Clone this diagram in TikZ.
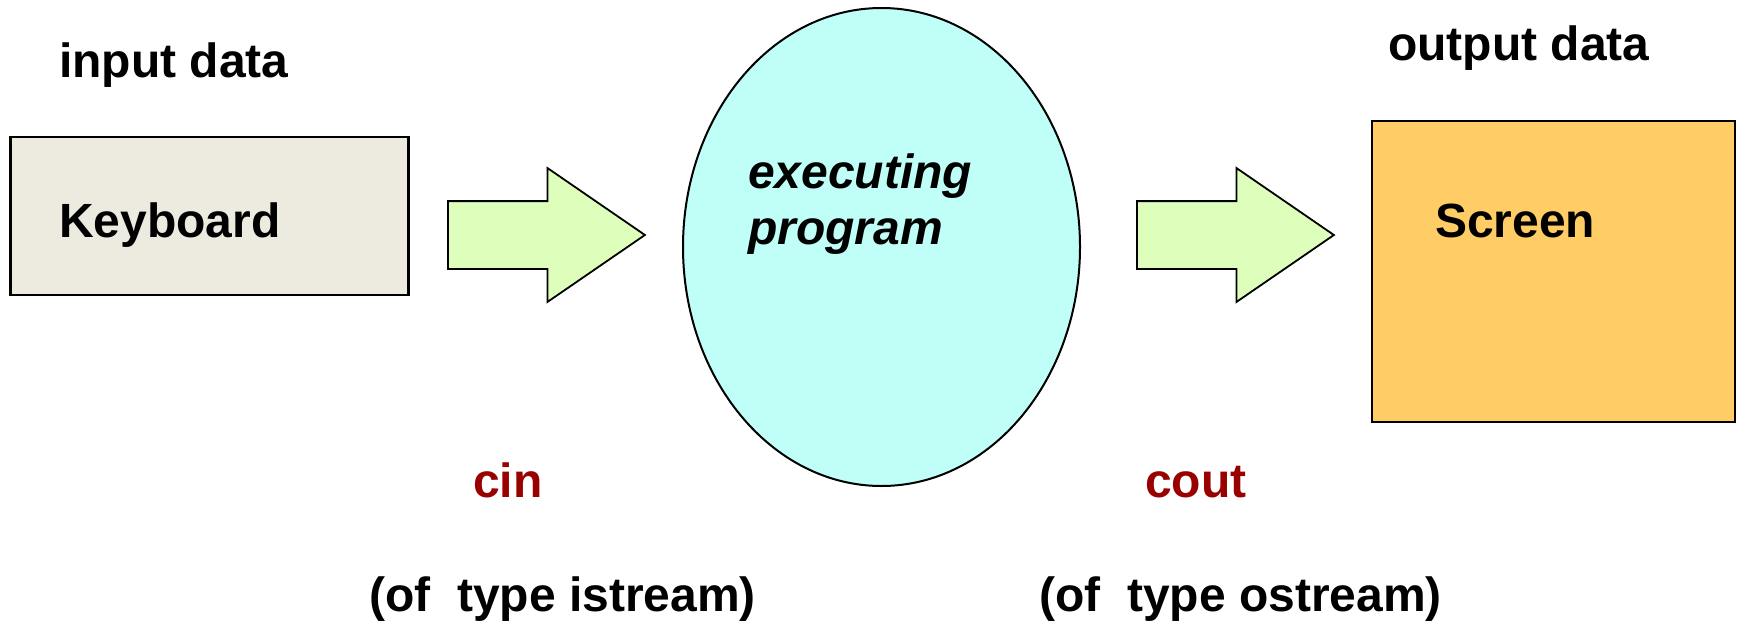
\documentclass[tikz,border=0pt]{standalone}
\usepackage{fontspec}
\setmainfont{Liberation Sans}
\usepackage{xcolor}
\usepackage{tikz}
\usetikzlibrary{shapes.geometric, shapes.arrows}
\definecolor{kbdfill}{RGB}{237,235,224}
\definecolor{scrfill}{RGB}{255,204,102}
\definecolor{progfill}{RGB}{191,255,248}
\definecolor{flowfill}{RGB}{221,255,187}
\definecolor{strmred}{RGB}{153,0,0}
\tikzset{
  dev/.style={rectangle, draw=black, line width=2.6pt, inner sep=0pt},
  prog/.style={ellipse, draw=black, fill=progfill, line width=2pt, inner sep=0pt,
               minimum width=397pt, minimum height=478pt},
  flow/.style={single arrow, draw=black, fill=flowfill, line width=1.8pt,
               inner xsep=0pt, inner ysep=33pt, minimum height=197pt,
               single arrow head extend=33pt, single arrow tip angle=69,
               anchor=tail},
  lbl/.style={font=\fontsize{48}{56}\selectfont\bfseries, inner sep=0pt,
              anchor=base west},
  lblit/.style={lbl, font=\fontsize{48}{56}\selectfont\bfseries\itshape},
  strm/.style={lbl, text=strmred}
}
\begin{document}
\begin{tikzpicture}[x=1pt, y=-1pt]
  \useasboundingbox (0,0) rectangle (1738,622);
  \node[dev, fill=kbdfill, minimum width=398pt, minimum height=158pt] (kbd) at (209.5,216) {};
  \node[dev, fill=scrfill, minimum width=363pt, minimum height=301pt] (scr) at (1553.5,271.5) {};
  \node[prog] (exe) at (881.5,247) {};
  \node[flow] (cinarr) at (447,235) {};
  \node[flow] (coutarr) at (1136,235) {};
  \node[lbl] (indata) at (59,77) {input data};
  \node[lbl] (outdata) at (1388,60) {output data};
  \node[lbl] (kbdtxt) at (59,237) {Keyboard};
  \node[lbl] (scrtxt) at (1435,237) {Screen};
  \node[lblit] (exetxt) at (748,188) {executing};
  \node[lblit] (progtxt) at (748,244) {program};
  \node[strm] (cin) at (473,497) {cin};
  \node[strm] (cout) at (1145,497) {cout};
  \node[lbl] (cintype) at (369,611) {(of\ \ type istream)};
  \node[lbl] (couttype) at (1039,611) {(of\ \ type ostream)};
\end{tikzpicture}
\end{document}
